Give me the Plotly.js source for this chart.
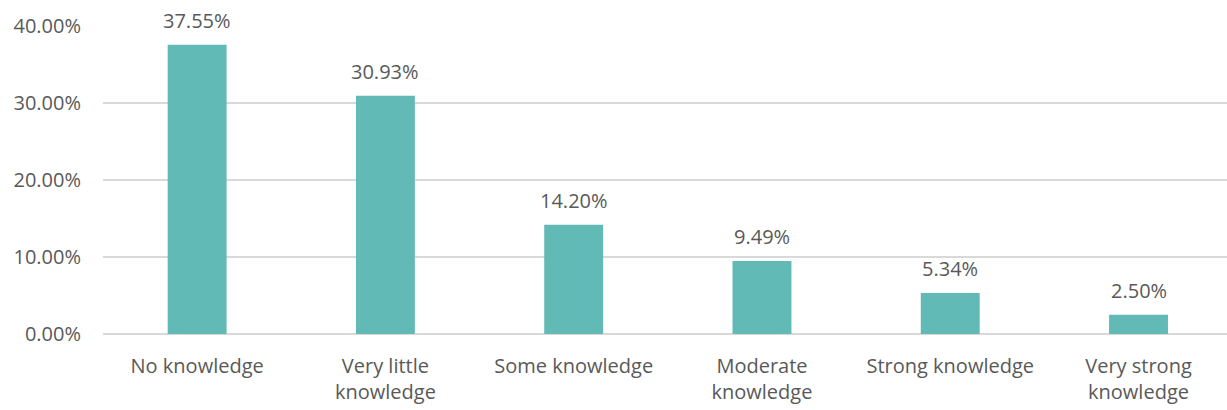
<!DOCTYPE html>
<html>
<head>
<meta charset="utf-8">
<script src="https://cdn.plot.ly/plotly-3.0.1.min.js"></script>
<style>html,body{margin:0;padding:0;background:#fff;}#chart{width:1227px;height:410px;}</style>
</head>
<body>
<div id="chart"></div>
<script>
const categories = ["No knowledge", "Very little<br>knowledge", "Some knowledge", "Moderate<br>knowledge", "Strong knowledge", "Very strong<br>knowledge"];
const values = [37.55, 30.93, 14.20, 9.49, 5.34, 2.50];
const yTicks = [0, 10, 20, 30, 40];
const yTickLabels = ["0.00%", "10.00%", "20.00%", "30.00%", "40.00%"];

const font = {family: "Open Sans, Lato, sans-serif", size: 20, color: "#595959"};

Plotly.newPlot("chart", [{
  type: "bar",
  x: categories,
  y: values,
  marker: {color: "#62BAB6"},
  hoverinfo: "none"
}], {
  width: 1227, height: 410,
  margin: {l: 103, r: 0, t: 26, b: 76},
  paper_bgcolor: "#fff", plot_bgcolor: "#fff",
  font: font,
  bargap: 0.687,
  showlegend: false,
  annotations: categories.map((c, i) => ({
    x: c, y: values[i], xref: "x", yref: "y",
    text: values[i].toFixed(2) + "%",
    showarrow: false, yanchor: "bottom", yshift: 9,
    font: font
  })),
  xaxis: {
    range: [-0.5, 5.47],
    showgrid: false, zeroline: false, showline: false,
    ticks: "", tickfont: font, automargin: false,
    ticklabelstandoff: 18
  },
  yaxis: {
    range: [0, 40],
    tickvals: yTicks, ticktext: yTickLabels,
    showgrid: true, gridcolor: "#d9d9d9", gridwidth: 1.3,
    zeroline: true, zerolinecolor: "#d9d9d9", zerolinewidth: 1.5,
    showline: false, ticks: "", ticklabelstandoff: 21,
    tickfont: font, automargin: false
  }
}, {displayModeBar: false, staticPlot: true});
</script>
</body>
</html>
